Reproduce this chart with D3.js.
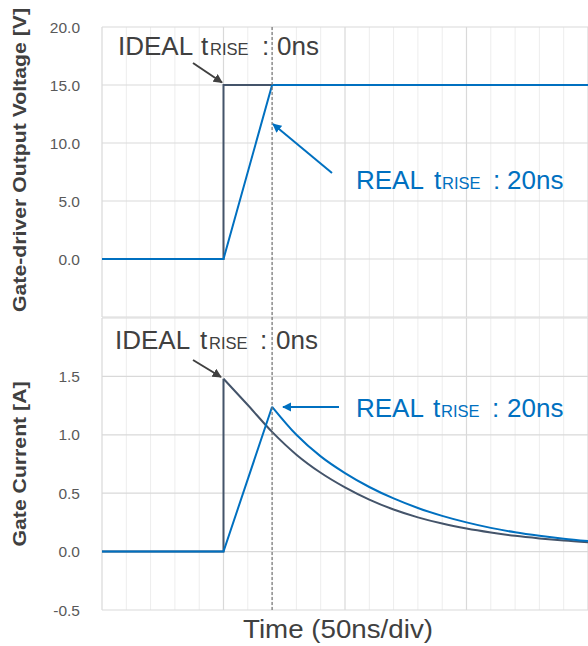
<!DOCTYPE html>
<html>
<head>
<meta charset="utf-8">
<script src="https://cdn.jsdelivr.net/npm/d3@7"></script>
<style>
  html, body { margin: 0; padding: 0; background: #fff; }
  svg { display: block; font-family: "Liberation Sans", Arial, sans-serif; }
</style>
</head>
<body>
<svg id="chart" width="588" height="646"></svg>
<script>
// Time axis (ns) – 50 ns per major division, 10 ns per minor division
const timeDomain = [0, 200];
const majorTimes = [0, 50, 100, 150, 200];
const minorTimes = d3.range(0, 201, 10);

// Gate-driver output voltage [V]
const voltTicks = [0, 5, 10, 15, 20];
const voltGrid = [-5, 0, 5, 10, 15, 20];
const idealVoltT = [0, 50, 50, 200];
const idealVoltV = [0, 0, 15, 15];
const realVoltT = [0, 50, 70, 200];
const realVoltV = [0, 0, 15, 15];

// Gate current [A]
const currTicks = [-0.5, 0, 0.5, 1.0, 1.5];
const currGrid = [-0.5, 0, 0.5, 1.0, 1.5, 2.0];
const idealCurT = [0, 50, 50, 60, 70, 80, 90, 100, 110, 120, 130, 140, 150, 160, 170, 180, 190, 200];
const idealCurA = [0, 0, 1.48, 1.255, 1.025, 0.83, 0.675, 0.55, 0.445, 0.36, 0.293, 0.24, 0.198, 0.164, 0.135, 0.113, 0.095, 0.081];
const realCurT = [0, 50, 70, 80, 90, 100, 110, 120, 130, 140, 150, 160, 170, 180, 190, 200];
const realCurA = [0, 0, 1.24, 1.0, 0.815, 0.672, 0.553, 0.455, 0.373, 0.306, 0.25, 0.203, 0.165, 0.135, 0.11, 0.09];

// Rise time marker (end of the real 20 ns edge)
const riseEndT = 70;

const xTitle = "Time (50ns/div)";
const voltTitle = "Gate-driver Output Voltage [V]";
const currTitle = "Gate Current [A]";

const COL_IDEAL = "#44546A";
const COL_REAL = "#0070C0";
const COL_TEXT = "#404040";
const COL_TICK = "#595959";

const svg = d3.select("#chart");

const x = d3.scaleLinear().domain(timeDomain).range([102, 588]);
const yV = d3.scaleLinear().domain([-5, 20]).range([317, 27]);
const yI = d3.scaleLinear().domain([-0.5, 2.0]).range([610, 318]);

const defs = svg.append("defs");
function marker(id, color) {
  defs.append("marker")
    .attr("id", id)
    .attr("viewBox", "0 0 10 10")
    .attr("refX", 9).attr("refY", 5)
    .attr("markerWidth", 4.6).attr("markerHeight", 4.6)
    .attr("markerUnits", "strokeWidth")
    .attr("orient", "auto")
    .append("path").attr("d", "M0,0L10,5L0,10Z").attr("fill", color);
}
marker("arrIdeal", COL_TEXT);
marker("arrReal", COL_REAL);

// One panel: grid, tick labels and traces
function panel(y, gridVals, tickVals, fmt) {
  const g = svg.append("g");
  const [y0, y1] = y.range();
  g.selectAll(".minor").data(minorTimes.filter(t => !majorTimes.includes(t))).enter()
    .append("line")
    .attr("x1", d => x(d)).attr("x2", d => x(d))
    .attr("y1", y1).attr("y2", y0)
    .attr("stroke", "#EDEDED").attr("stroke-width", 1);
  g.selectAll(".major").data(majorTimes).enter()
    .append("line")
    .attr("x1", d => x(d)).attr("x2", d => x(d))
    .attr("y1", y1).attr("y2", y0)
    .attr("stroke", "#D9D9D9").attr("stroke-width", 1.2);
  g.selectAll(".hgrid").data(gridVals).enter()
    .append("line")
    .attr("x1", x(timeDomain[0])).attr("x2", x(timeDomain[1]))
    .attr("y1", d => y(d)).attr("y2", d => y(d))
    .attr("stroke", "#D9D9D9").attr("stroke-width", 1.2);
  g.selectAll(".tick").data(tickVals).enter()
    .append("text")
    .attr("x", 80).attr("y", d => y(d))
    .attr("dy", "0.36em")
    .attr("text-anchor", "end")
    .attr("font-size", 15.5)
    .attr("fill", COL_TICK)
    .text(fmt);
  return g;
}

function drawTrace(g, y, ts, vs, color, smoothTail) {
  const pts = ts.map((t, i) => [t, vs[i]]);
  const peak = d3.maxIndex(vs);
  const lineLin = d3.line().x(d => x(d[0])).y(d => y(d[1]));
  const lineSmooth = d3.line().x(d => x(d[0])).y(d => y(d[1])).curve(d3.curveMonotoneX);
  const head = smoothTail ? pts.slice(0, peak + 1) : pts;
  g.append("path").attr("d", lineLin(head))
    .attr("fill", "none").attr("stroke", color).attr("stroke-width", 2)
    .attr("stroke-linejoin", "miter");
  if (smoothTail) {
    g.append("path").attr("d", lineSmooth(pts.slice(peak)))
      .attr("fill", "none").attr("stroke", color).attr("stroke-width", 2);
  }
}

const fmt1 = d => d3.format(".1f")(d).replace("−", "-");

const gV = panel(yV, voltGrid, voltTicks, fmt1);
const gI = panel(yI, currGrid, currTicks, fmt1);

drawTrace(gV, yV, idealVoltT, idealVoltV, COL_IDEAL, false);
drawTrace(gV, yV, realVoltT, realVoltV, COL_REAL, false);
drawTrace(gI, yI, idealCurT, idealCurA, COL_IDEAL, true);
drawTrace(gI, yI, realCurT, realCurA, COL_REAL, true);

// dashed marker at the end of the real rise edge
svg.append("line")
  .attr("x1", x(riseEndT)).attr("x2", x(riseEndT))
  .attr("y1", yV.range()[1]).attr("y2", yI.range()[0])
  .attr("stroke", "#737373").attr("stroke-width", 1.2)
  .attr("stroke-dasharray", "3,2");

// annotation labels: "IDEAL tRISE : 0ns" / "REAL tRISE : 20ns"
// offs = [t, RISE, colon, value] offsets from the label's left edge
function riseLabel(xs, yBase, prefix, value, color, offs) {
  const t = svg.append("text").attr("y", yBase).attr("fill", color).attr("font-size", 26);
  t.append("tspan").attr("x", xs).text(prefix);
  t.append("tspan").attr("x", xs + offs[0]).text("t");
  t.append("tspan").attr("x", xs + offs[1]).attr("font-size", 16.5).text("RISE");
  t.append("tspan").attr("x", xs + offs[2]).text(":");
  t.append("tspan").attr("x", xs + offs[3]).text(value);
  return t;
}
riseLabel(118, 55, "IDEAL", "0ns", COL_TEXT, [83, 92, 144, 159]);
riseLabel(115, 349, "IDEAL", "0ns", COL_TEXT, [85, 94, 145, 161]);
riseLabel(356, 189, "REAL", "20ns", COL_REAL, [78, 86, 137, 151]);
riseLabel(356, 417, "REAL", "20ns", COL_REAL, [77, 85, 136, 151]);

// arrows
function arrow(t0, v0, t1, v1, y, color, id) {
  svg.append("line")
    .attr("x1", x(t0)).attr("y1", y(v0))
    .attr("x2", x(t1)).attr("y2", y(v1))
    .attr("stroke", color).attr("stroke-width", 2)
    .attr("marker-end", `url(#${id})`);
}
arrow(x.invert(193), yV.invert(63), x.invert(222), yV.invert(82.5), yV, COL_TEXT, "arrIdeal");
arrow(x.invert(332), yV.invert(173), x.invert(273), yV.invert(124), yV, COL_REAL, "arrReal");
arrow(x.invert(193), yI.invert(360), x.invert(221), yI.invert(377), yI, COL_TEXT, "arrIdeal");
arrow(x.invert(339), yI.invert(407), x.invert(283), yI.invert(407), yI, COL_REAL, "arrReal");

// axis titles
svg.append("text")
  .attr("transform", "translate(26,160) rotate(-90)")
  .attr("text-anchor", "middle")
  .attr("font-size", 19).attr("font-weight", "bold")
  .attr("fill", COL_TEXT)
  .attr("textLength", 304).attr("lengthAdjust", "spacingAndGlyphs")
  .text(voltTitle);
svg.append("text")
  .attr("transform", "translate(26,464) rotate(-90)")
  .attr("text-anchor", "middle")
  .attr("font-size", 19).attr("font-weight", "bold")
  .attr("fill", COL_TEXT)
  .attr("textLength", 165).attr("lengthAdjust", "spacingAndGlyphs")
  .text(currTitle);
svg.append("text")
  .attr("x", 338).attr("y", 638)
  .attr("text-anchor", "middle")
  .attr("font-size", 25)
  .attr("fill", COL_TEXT)
  .attr("textLength", 190).attr("lengthAdjust", "spacingAndGlyphs")
  .text(xTitle);
</script>
</body>
</html>
